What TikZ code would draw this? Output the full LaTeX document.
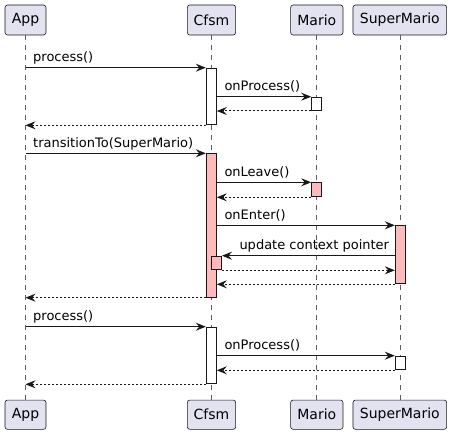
\documentclass[tikz,border=0pt]{standalone}
\usepackage{fontspec}
\setmainfont{DejaVu Sans}
\usetikzlibrary{arrows.meta}
\definecolor{pbg}{HTML}{E2E2F0}
\definecolor{ln}{HTML}{181818}
\definecolor{actpink}{HTML}{FFBBBB}
\begin{document}
\begin{tikzpicture}[x=1pt,y=-1pt,
  part/.style={draw=ln,fill=pbg,rounded corners=2.5pt,line width=0.6pt,inner sep=0pt,
    minimum height=30pt,font=\fontsize{14}{16}\selectfont},
  life/.style={draw=ln!70,line width=0.6pt,dash pattern=on 5pt off 5pt},
  actw/.style={draw=ln,fill=white,line width=1pt,inner sep=0pt,minimum width=10pt,anchor=north},
  actp/.style={actw,fill=actpink},
  msg/.style={draw=ln,line width=1pt,-{Stealth[length=10pt,width=8pt,inset=3.5pt]}},
  ret/.style={msg,dash pattern=on 2pt off 2pt},
  lbl/.style={anchor=base west,inner sep=0pt,font=\fontsize{13}{15}\selectfont,text=black}]
\useasboundingbox (0,0) rectangle (452,435);
% participants
\node[part,minimum width=41pt] (appT) at (25.5,20) {App};
\node[part,minimum width=48.3pt] (cfsmT) at (211.5,20) {Cfsm};
\node[part,minimum width=52.3pt] (marT) at (316.8,20) {Mario};
\node[part,minimum width=93.7pt] (supT) at (399.8,20) {SuperMario};
\node[part,minimum width=41pt,minimum height=29.3pt] (appB) at (25.5,414.7) {App};
\node[part,minimum width=48.3pt,minimum height=29.3pt] (cfsmB) at (211.5,414.7) {Cfsm};
\node[part,minimum width=52.3pt,minimum height=29.3pt] (marB) at (316.8,414.7) {Mario};
\node[part,minimum width=93.7pt,minimum height=29.3pt] (supB) at (399.8,414.7) {SuperMario};
% lifelines
\coordinate (appL) at (25.5,0);
\coordinate (cfsmL) at (211.3,0);
\coordinate (marL) at (316.7,0);
\coordinate (supL) at (400.3,0);
\draw[life] (appL |- appT.south) -- (appL |- appB.north);
\draw[life] (cfsmL |- cfsmT.south) -- (cfsmL |- cfsmB.north);
\draw[life] (marL |- marT.south) -- (marL |- marB.north);
\draw[life] (supL |- supT.south) -- (supL |- supB.north);
% activations
\node[actw,minimum height=56.6pt] (a1) at (211.3,67.7) {};
\node[actw,minimum height=13.3pt] (a2) at (316.7,96.7) {};
\node[actp,minimum height=143.4pt] (a3) at (211.3,153.3) {};
\node[actp,minimum height=14pt] (a4) at (316.7,182.3) {};
\node[actp,minimum height=58pt] (a5) at (400.3,225.3) {};
\node[actp,minimum height=13.6pt] (a6) at (216.5,255.7) {};
\node[actw,minimum height=56.6pt] (a7) at (211.3,326.7) {};
\node[actw,minimum height=13.6pt] (a8) at (400.3,355.7) {};
% messages
\draw[msg] (appL |- a1.north) -- (a1.north west);
\node[lbl] (l1) at (33,61.7) {process()};
\draw[msg] (a1.north east |- a2.north) -- (a2.north west);
\node[lbl] (l2) at (224.3,90.7) {onProcess()};
\draw[ret] (a2.south west) -- (a1.north east |- a2.south);
\draw[ret] (a1.south west) -- (appL |- a1.south);

\draw[msg] (appL |- a3.north) -- (a3.north west);
\node[lbl] (l3) at (33,147.3) {transitionTo(SuperMario)};
\draw[msg] (a3.north east |- a4.north) -- (a4.north west);
\node[lbl] (l4) at (224.3,176.3) {onLeave()};
\draw[ret] (a4.south west) -- (a3.north east |- a4.south);
\draw[msg] (a3.north east |- a5.north) -- (a5.north west);
\node[lbl] (l5) at (224.3,219.3) {onEnter()};
\draw[msg] (a5.north west |- a6.north) -- (a6.north east);
\node[lbl] (l6) at (239.3,249.7) {update context pointer};
\draw[ret] (a6.south east) -- (a5.north west |- a6.south);
\draw[ret] (a5.south west) -- (a3.north east |- a5.south);
\draw[ret] (a3.south west) -- (appL |- a3.south);

\draw[msg] (appL |- a7.north) -- (a7.north west);
\node[lbl] (l7) at (33,320.7) {process()};
\draw[msg] (a7.north east |- a8.north) -- (a8.north west);
\node[lbl] (l8) at (224.3,349.7) {onProcess()};
\draw[ret] (a8.south west) -- (a7.north east |- a8.south);
\draw[ret] (a7.south west) -- (appL |- a7.south);
\end{tikzpicture}
\end{document}
